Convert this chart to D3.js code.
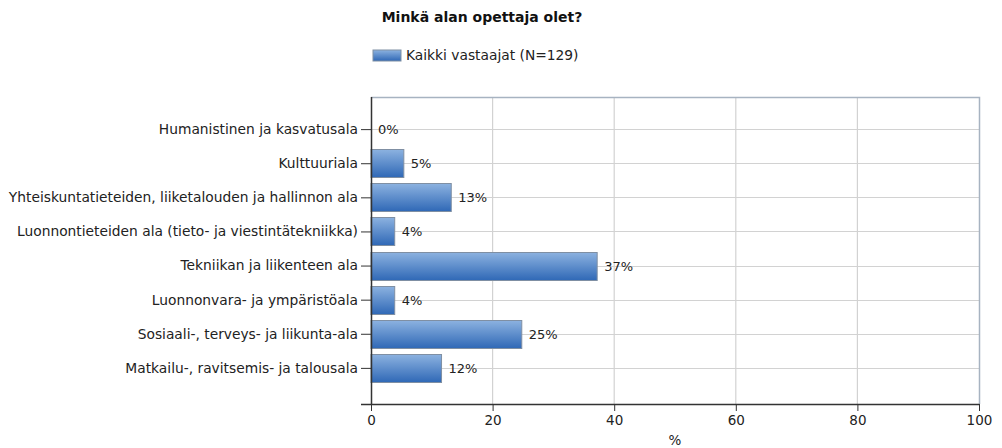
<!DOCTYPE html>
<html><head><meta charset="utf-8">
<script src="https://cdn.jsdelivr.net/npm/d3@7"></script>
<style>body{margin:0;background:#fff}svg{display:block}text{font-family:"DejaVu Sans",Verdana,sans-serif}</style>
</head><body><svg id="c" width="1002" height="448"></svg>
<script>
const categories = ["Humanistinen ja kasvatusala","Kulttuuriala","Yhteiskuntatieteiden, liiketalouden ja hallinnon ala","Luonnontieteiden ala (tieto- ja viestintätekniikka)","Tekniikan ja liikenteen ala","Luonnonvara- ja ympäristöala","Sosiaali-, terveys- ja liikunta-ala","Matkailu-, ravitsemis- ja talousala"];
const values = [0, 5.4, 13.2, 3.9, 37.2, 3.9, 24.8, 11.6];
const valueLabels = ["0%","5%","13%","4%","37%","4%","25%","12%"];
const xTicks = [0,20,40,60,80,100];
const title = "Minkä alan opettaja olet?";
const seriesName = "Kaikki vastaajat (N=129)";
const axisTitle = "%";

const svg = d3.select("#c");
const L = 371, R = 979, T = 97, B = 404;
const x = d3.scaleLinear().domain([0,100]).range([L,R]);
const y = d3.scalePoint().domain(categories).range([T-2,B-2]).padding(1);
const barH = 28;

const defs = svg.append("defs");
const g = defs.append("linearGradient").attr("id","bg").attr("x1",0).attr("y1",0).attr("x2",0).attr("y2",1);
g.append("stop").attr("offset","0%").attr("stop-color","#8cb2e0");
g.append("stop").attr("offset","100%").attr("stop-color","#2f68b6");

// grid
svg.append("g").selectAll("line.v").data(xTicks.slice(1,-1)).join("line")
  .attr("x1",d=>x(d)).attr("x2",d=>x(d)).attr("y1",T).attr("y2",B)
  .attr("stroke","#d2d2d2").attr("stroke-width",1.2);
svg.append("g").selectAll("line.h").data(categories).join("line")
  .attr("x1",L).attr("x2",R).attr("y1",d=>Math.round(y(d))+0.5).attr("y2",d=>Math.round(y(d))+0.5)
  .attr("stroke","#d2d2d2").attr("stroke-width",1.2);

// frame top/right
svg.append("path").attr("d",`M${L},${T+0.5}H${R+0.5}V${B}`).attr("fill","none").attr("stroke","#a7b3c1").attr("stroke-width",1.5);

// bars
svg.append("g").selectAll("rect").data(values).join("rect")
  .attr("x",L).attr("y",(d,i)=>Math.round(y(categories[i]))-barH/2+0.5)
  .attr("width",d=>x(d)-L).attr("height",barH)
  .attr("fill","url(#bg)").attr("stroke",(d)=>d>0?"#7f8fa3":"none").attr("stroke-width",1);

// value labels
svg.append("g").selectAll("text").data(values).join("text")
  .attr("x",d=>x(d)+7).attr("y",(d,i)=>y(categories[i])+5)
  .attr("font-size",13).attr("fill","#222").text((d,i)=>valueLabels[i]);

// left axis
const ya = svg.append("g").attr("transform",`translate(${L},0)`)
  .call(d3.axisLeft(y).tickSize(10).tickPadding(3));
ya.select(".domain").attr("d",`M0.5,${T}V${B}`).attr("stroke","#333").attr("stroke-width",1.5);
ya.selectAll(".tick line").attr("stroke","#333");
ya.selectAll(".tick text").attr("font-size",13.8).attr("fill","#222").attr("font-family","DejaVu Sans, Verdana, sans-serif");

// bottom axis
const xa = svg.append("g").attr("transform",`translate(0,${B})`)
  .call(d3.axisBottom(x).tickValues(xTicks).tickSize(7).tickPadding(4));
xa.select(".domain").attr("d",`M${L-10},0.5H${R+0.5}`).attr("stroke","#333").attr("stroke-width",1.5);
xa.selectAll(".tick line").attr("stroke","#333");
xa.selectAll(".tick text").attr("font-size",13.5).attr("fill","#222").attr("font-family","DejaVu Sans, Verdana, sans-serif");

svg.append("text").attr("x",(L+R)/2).attr("y",445).attr("text-anchor","middle")
  .attr("font-size",13.5).attr("fill","#222").text(axisTitle);

// title
svg.append("text").attr("x",482).attr("y",22).attr("text-anchor","middle")
  .attr("font-size",14).attr("font-weight","bold").attr("fill","#111").text(title);

// legend
svg.append("rect").attr("x",373).attr("y",50).attr("width",28).attr("height",11)
  .attr("fill","url(#bg)").attr("stroke","#7f8fa3");
svg.append("text").attr("x",406).attr("y",60).attr("font-size",13.8).attr("fill","#222").text(seriesName);
</script></body></html>
